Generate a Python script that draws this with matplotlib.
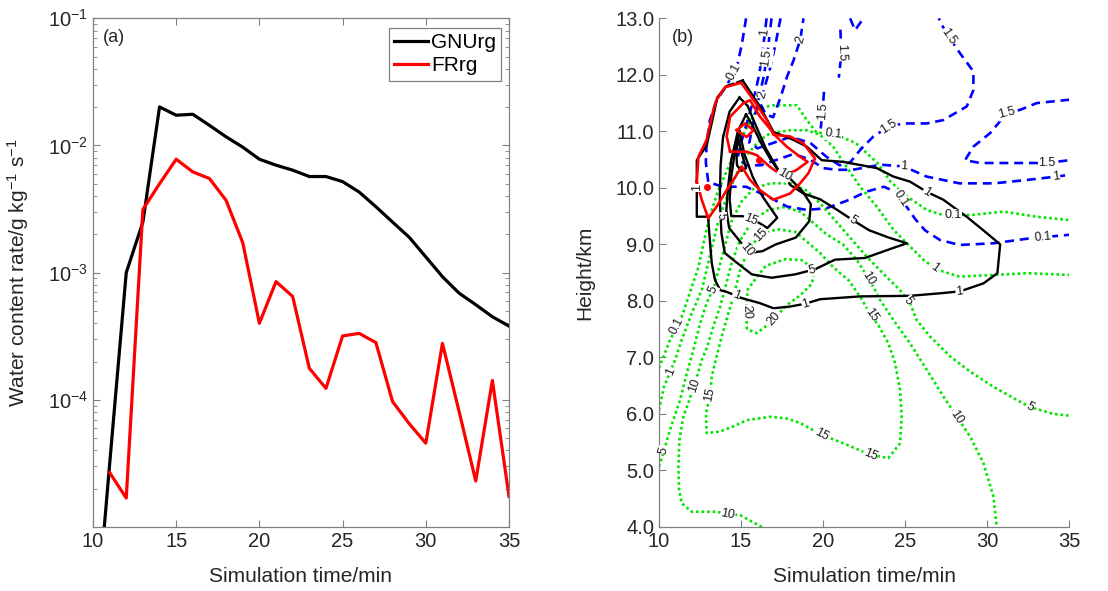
import numpy as np
import matplotlib
matplotlib.use('Agg')
import matplotlib.pyplot as plt
from matplotlib.ticker import FixedLocator, LogLocator, NullFormatter, FormatStrFormatter

plt.rcParams['font.family'] = ['Liberation Sans', 'DejaVu Sans']
plt.rcParams['mathtext.fontset'] = 'custom'
plt.rcParams['mathtext.rm'] = 'Liberation Sans'
plt.rcParams['mathtext.it'] = 'Liberation Sans:italic'
plt.rcParams['mathtext.default'] = 'regular'

# ---- (a) water content rate, one value per model minute
minutes = np.arange(10, 36)
gnurg = [9e-7, 3.1e-5, 1.0e-3, 2.5e-3, 2.01e-2, 1.73e-2, 1.76e-2, 1.44e-2, 1.17e-2,
         9.7e-3, 7.8e-3, 7.0e-3, 6.4e-3, 5.7e-3, 5.7e-3, 5.2e-3, 4.3e-3, 3.3e-3,
         2.5e-3, 1.9e-3, 1.33e-3, 9.3e-4, 6.9e-4, 5.6e-4, 4.5e-4, 3.8e-4]
frrg = [np.nan, 2.68e-5, 1.69e-5, 3.14e-3, 5.0e-3, 7.8e-3, 6.2e-3, 5.5e-3, 3.7e-3,
        1.72e-3, 4.0e-4, 8.5e-4, 6.5e-4, 1.77e-4, 1.23e-4, 3.18e-4, 3.33e-4, 2.82e-4,
        9.7e-5, 6.5e-5, 4.56e-5, 2.78e-4, 8.1e-5, 2.3e-5, 1.42e-4, 1.74e-5]

# ---- (b) contour lines as (time [min], height [km]) vertices
green_01 = [(10.0, 6.81), (10.67, 7.31), (11.38, 7.72), (11.79, 8.07), (12.4, 8.6), (12.8, 9.14),
            (13.1, 9.5), (13.6, 9.95), (14.2, 10.35), (14.8, 10.75), (15.4, 11.1), (16.0, 11.4),
            (16.9, 11.46), (18.4, 11.46), (19.0, 11.2), (19.6, 10.98), (20.8, 10.94), (22.0, 10.79),
            (23.3, 10.44), (24.1, 10.11), (25.1, 9.85), (26.3, 9.61), (27.3, 9.52), (29.0, 9.52),
            (31.0, 9.58), (33.0, 9.49), (35.0, 9.43)]
green_1 = [(10.0, 6.07), (10.3, 6.48), (10.97, 6.95), (11.38, 7.31), (11.99, 7.78), (12.6, 8.19),
           (13.1, 8.8), (13.6, 9.4), (14.2, 9.9), (14.8, 10.3), (15.4, 10.6), (16.15, 10.85),
           (16.8, 10.97), (18.0, 11.02), (19.0, 11.02), (19.8, 10.94), (20.6, 10.73), (21.4, 10.38),
           (22.25, 10.02), (23.26, 9.67), (24.28, 9.26), (25.3, 8.96), (26.1, 8.73), (26.8, 8.58),
           (27.3, 8.52), (28.3, 8.43), (30.4, 8.46), (32.4, 8.49), (35.0, 8.46)]
green_5 = [(10.0, 5.07), (10.26, 5.31), (10.67, 5.72), (11.28, 6.25), (11.69, 6.72), (12.09, 7.13),
           (12.5, 7.6), (12.9, 7.96), (13.35, 8.25), (13.9, 8.85), (14.4, 9.4), (15.0, 9.75),
           (15.8, 10.0), (16.8, 10.08), (18.0, 10.08), (19.0, 9.95), (19.9, 9.7), (20.8, 9.4),
           (21.7, 9.1), (22.6, 8.8), (23.6, 8.5), (24.68, 8.19), (25.29, 7.96), (25.7, 7.66),
           (26.51, 7.37), (27.73, 7.02), (28.95, 6.75), (30.37, 6.48), (31.79, 6.25), (32.6, 6.12),
           (33.21, 6.07), (34.03, 6.0), (35.0, 5.97)]
green_10 = [(16.26, 4.0), (14.94, 4.21), (14.22, 4.23), (13.51, 4.27), (11.99, 4.27), (11.38, 4.42),
            (11.22, 4.66), (11.18, 5.07), (11.24, 5.54), (11.48, 5.95), (11.79, 6.2), (12.2, 6.55),
            (12.6, 6.95), (12.95, 7.2), (13.31, 7.55), (13.72, 7.9), (13.95, 8.14), (14.4, 8.65),
            (14.9, 9.05), (15.7, 9.42), (16.6, 9.6), (17.6, 9.66), (18.6, 9.58), (19.4, 9.38),
            (20.2, 9.18), (21.2, 9.0), (22.04, 8.73), (22.75, 8.4), (23.16, 8.19), (23.46, 8.02),
            (24.28, 7.66), (25.29, 7.25), (26.31, 6.78), (27.32, 6.31), (28.14, 5.95), (28.95, 5.6),
            (29.76, 5.13), (30.37, 4.54), (30.57, 4.0)]
green_15 = [(14.53, 8.08), (14.22, 7.78), (13.82, 7.37), (13.51, 7.02), (13.21, 6.66), (13.11, 6.34),
            (12.86, 6.01), (12.9, 5.66), (13.72, 5.69), (14.53, 5.78), (15.34, 5.89), (16.76, 5.95),
            (17.78, 5.92), (18.59, 5.84), (19.91, 5.63), (21.23, 5.48), (22.86, 5.28), (23.97, 5.22),
            (24.68, 5.48), (24.78, 5.95), (24.68, 6.43), (24.38, 6.9), (23.97, 7.25), (23.4, 7.55),
            (22.8, 7.8), (22.3, 8.05), (21.6, 8.35), (20.6, 8.6), (19.8, 8.85), (19.0, 9.05),
            (18.3, 9.22), (17.2, 9.27), (16.3, 9.18), (15.5, 8.95), (14.95, 8.55), (14.53, 8.08)]
green_20 = [(15.35, 7.5), (15.3, 7.85), (15.4, 8.2), (15.9, 8.4), (16.5, 8.62), (17.7, 8.74),
            (18.7, 8.72), (19.5, 8.55), (19.3, 8.3), (18.6, 8.1), (17.9, 7.95), (17.3, 7.78),
            (16.9, 7.65), (16.5, 7.55), (15.95, 7.43), (15.35, 7.5)]

blue_01 = [(15.3, 13.0), (15.05, 12.55), (14.75, 12.15), (14.1, 11.8), (13.5, 11.55), (13.1, 11.2),
           (12.9, 10.8), (12.85, 10.45), (13.0, 10.1), (13.9, 10.02), (15.3, 10.02), (16.6, 9.85),
           (17.8, 9.67), (19.0, 9.61), (20.2, 9.64), (21.6, 9.79), (22.6, 9.93), (23.7, 10.02),
           (24.5, 9.92), (25.0, 9.7), (25.6, 9.45), (26.2, 9.25), (27.1, 9.08), (28.3, 8.99),
           (30.4, 9.02), (32.4, 9.1), (35.0, 9.17)]
blue_1 = [(16.55, 13.0), (16.35, 12.5), (16.1, 12.0), (15.75, 11.55), (15.35, 11.15), (15.0, 10.8),
          (14.8, 10.55), (15.3, 10.4), (16.2, 10.4), (17.2, 10.5), (18.2, 10.6), (19.2, 10.5),
          (20.0, 10.35), (20.8, 10.32), (21.8, 10.32), (23.5, 10.41), (24.9, 10.38), (26.3, 10.2),
          (28.3, 10.08), (30.4, 10.08), (32.4, 10.14), (34.2, 10.2), (35.0, 10.23)]
blue_15_main = [(16.85, 13.0), (16.65, 12.5), (16.4, 12.0), (16.05, 11.55), (15.7, 11.1), (15.5, 10.8),
                (16.0, 10.7), (17.0, 10.8), (18.0, 10.9), (19.2, 10.8), (20.2, 10.55), (21.0, 10.4),
                (21.64, 10.45), (22.25, 10.67), (23.06, 10.91), (23.97, 11.08), (24.89, 11.14),
                (26.31, 11.14), (27.32, 11.2), (28.74, 11.44), (29.15, 11.73), (29.15, 12.06),
                (28.34, 12.38), (27.63, 12.68), (27.12, 12.94), (27.05, 13.0)]
blue_15_top = [(21.05, 12.8), (21.1, 12.35), (20.95, 11.95)]
blue_15_mid = [(20.05, 11.7), (19.95, 11.35), (19.85, 11.05)]
blue_15_cap = [(21.64, 13.0), (21.94, 12.79), (22.45, 13.0)]
blue_15_right = [(35.0, 11.56), (33.01, 11.5), (31.99, 11.38), (31.18, 11.32), (30.17, 10.97),
                 (29.15, 10.73), (28.64, 10.49), (29.56, 10.44), (32.4, 10.44), (33.62, 10.44),
                 (35.0, 10.49)]
blue_2 = [(17.4, 13.0), (17.1, 12.55), (16.75, 12.1), (16.4, 11.75), (16.15, 11.5), (16.5, 11.3),
          (16.95, 11.25), (17.4, 11.6), (17.8, 11.97), (18.2, 12.26), (18.6, 12.62), (18.8, 13.0)]

black_1 = [(15.1, 11.9), (16.15, 11.44), (16.97, 10.99), (18.18, 10.85), (19.0, 10.73), (19.91, 10.49),
           (21.23, 10.46), (23.26, 10.35), (24.28, 10.2), (25.29, 10.11), (26.31, 9.93), (27.32, 9.79),
           (28.74, 9.49), (29.96, 9.2), (30.78, 9.0), (30.61, 8.49), (29.76, 8.31), (28.34, 8.17),
           (27.32, 8.14), (25.29, 8.09), (22.25, 8.08), (19.81, 8.03), (18.9, 7.95), (17.98, 7.9),
           (16.97, 7.87), (16.15, 7.96), (15.04, 8.05), (14.12, 8.16), (13.72, 8.19), (13.41, 8.37),
           (13.21, 8.67), (13.11, 9.02), (13.0, 9.43), (13.0, 9.49), (12.3, 9.49), (12.3, 10.49),
           (12.9, 10.75), (13.25, 11.2), (13.55, 11.6), (14.1, 11.8), (15.1, 11.9)]
black_5 = [(14.9, 11.6), (15.4, 11.45), (15.9, 11.1), (16.5, 10.7), (17.2, 10.35), (18.0, 10.05),
           (18.8, 9.9), (19.8, 9.8), (20.8, 9.62), (21.8, 9.43), (22.8, 9.25), (24.0, 9.12),
           (25.1, 9.02), (24.2, 8.93), (22.55, 8.76), (20.72, 8.73), (19.5, 8.56), (18.29, 8.47),
           (16.86, 8.41), (15.65, 8.47), (14.63, 8.7), (14.0, 8.85), (13.8, 9.2), (13.7, 9.8),
           (13.75, 10.4), (13.9, 10.9), (14.3, 11.35), (14.9, 11.6)]
black_10 = [(15.3, 11.3), (15.7, 11.1), (16.2, 10.8), (16.8, 10.5), (17.3, 10.29), (17.93, 10.18),
            (18.74, 9.94), (19.25, 9.71), (19.15, 9.41), (18.33, 9.12), (17.11, 9.0), (16.3, 8.88),
            (15.49, 8.85), (15.08, 9.0), (14.27, 9.29), (14.1, 9.6), (14.2, 10.0), (14.4, 10.5),
            (14.8, 11.0), (15.3, 11.3)]
black_15 = [(14.9, 11.0), (15.2, 10.6), (15.7, 10.2), (16.3, 9.85), (17.2, 9.47), (16.6, 9.29),
            (16.1, 9.38), (15.08, 9.5), (14.4, 9.5), (14.3, 9.8), (14.4, 10.2), (14.6, 10.6), (14.9, 11.0)]
black_20 = [(14.85, 10.85), (15.05, 10.6), (15.3, 10.35), (15.0, 10.3), (14.75, 10.4), (14.7, 10.65),
            (14.85, 10.85)]

red_outer = [(12.3, 10.11), (12.4, 10.55), (12.9, 10.85), (13.31, 11.38), (13.51, 11.56), (14.02, 11.78),
             (15.0, 11.86), (15.75, 11.56), (16.56, 11.2), (16.97, 10.94), (17.98, 10.91), (18.79, 10.79),
             (19.5, 10.52), (19.1, 10.26), (18.59, 10.08), (17.98, 9.9), (16.97, 9.79), (16.15, 9.96),
             (15.54, 10.14), (15.04, 10.38), (14.53, 10.14), (14.12, 9.96), (13.51, 9.67), (13.0, 9.46),
             (12.6, 9.79), (12.3, 10.11)]
red_inner = [(14.33, 10.64), (14.12, 10.91), (14.33, 11.26), (15.14, 11.5), (15.55, 11.55), (16.15, 11.26),
             (17.17, 10.9), (17.78, 10.73), (18.59, 10.55), (19.05, 10.46), (18.39, 10.32), (17.58, 10.2),
             (16.76, 10.37), (15.95, 10.58), (15.34, 10.64), (14.33, 10.64)]
red_core = [(14.73, 11.02), (15.24, 11.14), (15.75, 11.02), (15.34, 10.9), (14.73, 11.02)]
red_spots = [(12.93, 10.02), (16.1, 10.5)]

# (level, path, label spots, style) for each contour line
green_style = dict(color='#00e600', lw=1.9, ls=(0, (1, 1.1)), zorder=2)
blue_style = dict(color='#0000ff', lw=1.9, ls=(0, (3.4, 2.2)), zorder=2.5)
black_style = dict(color='black', lw=1.7, ls='-', zorder=3)
red_style = dict(color='#ff0000', lw=1.9, ls='-', zorder=3.5)

contours = [
    (0.1, green_01, [(11.15, 7.55), (20.6, 10.95), (27.9, 9.52)], green_style),
    (1, green_1, [(10.75, 6.75), (26.8, 8.58)], green_style),
    (5, green_5, [(10.3, 5.35), (13.3, 8.2), (25.2, 8.0), (32.6, 6.12)], green_style),
    (10, green_10, [(14.2, 4.23), (12.25, 6.5), (22.75, 8.4), (28.14, 5.95)], green_style),
    (15, green_15, [(13.1, 6.34), (19.9, 5.63), (22.86, 5.28), (22.9, 7.75), (16.1, 9.2)], green_style),
    (20, green_20, [(15.32, 7.8), (17.0, 7.68)], green_style),
    (0.1, blue_01, [(14.55, 12.05), (24.75, 9.82), (33.4, 9.13)], blue_style),
    (1, blue_1, [(16.45, 12.75), (24.9, 10.38), (34.2, 10.2)], blue_style),
    (1.5, blue_15_main, [(16.55, 12.3), (23.97, 11.08), (27.63, 12.68)], blue_style),
    (1.5, blue_15_top, [(21.08, 12.4)], blue_style),
    (1.5, blue_15_mid, [(19.95, 11.35)], blue_style),
    (1.5, blue_15_cap, [], blue_style),
    (1.5, blue_15_right, [(31.18, 11.32), (33.62, 10.44)], blue_style),
    (2, blue_2, [(16.3, 11.64), (18.6, 12.62)], blue_style),
    (1, black_1, [(12.3, 10.0), (26.3, 9.93), (28.3, 8.17), (18.9, 7.97), (14.7, 8.1)], black_style),
    (5, black_5, [(13.75, 9.5), (19.3, 8.55), (21.8, 9.43)], black_style),
    (10, black_10, [(17.6, 10.22), (15.3, 8.9)], black_style),
    (15, black_15, [(15.6, 9.45)], black_style),
    (20, black_20, [], black_style),
    (2, red_outer, [], red_style),
    (5, red_inner, [], red_style),
    (10, red_core, [], red_style),
]


def label_on(ax, path, spot, text):
    # put an inline label on the path segment nearest to spot, aligned with it
    pts = ax.transData.transform(np.asarray(path, dtype=float))
    p = ax.transData.transform(spot)
    best = None
    for a, b in zip(pts[:-1], pts[1:]):
        ab = b - a
        l2 = ab @ ab
        if l2 == 0:
            continue
        u = np.clip((p - a) @ ab / l2, 0, 1)
        q = a + u * ab
        d = np.hypot(*(p - q))
        if best is None or d < best[0]:
            best = (d, q, ab)
    _, q, ab = best
    ang = np.degrees(np.arctan2(ab[1], ab[0]))
    if ang > 90:
        ang -= 180
    elif ang < -90:
        ang += 180
    t, z = ax.transData.inverted().transform(q)
    ax.text(t, z, text, rotation=ang, rotation_mode='anchor', ha='center', va='center',
            fontsize=9, color='#1a1a1a', zorder=6,
            bbox=dict(fc='white', ec='none', pad=0.4))


fig = plt.figure(figsize=(11.08, 5.91), dpi=100)
grey = '#808080'

# ---------------- panel (a)
ax1 = fig.add_axes([0.0839, 0.1083, 0.3755, 0.8607])
ax1.plot(minutes, gnurg, color='black', lw=2.3, label='GNUrg')
ax1.plot(minutes, frrg, color='#ff0000', lw=2.3, label='FRrg')
ax1.set_yscale('log')
ax1.set_xlim(10, 35)
ax1.set_ylim(1e-5, 1e-1)
ax1.set_xticks(range(10, 36, 5))
ax1.yaxis.set_major_locator(FixedLocator([1e-4, 1e-3, 1e-2, 1e-1]))
ax1.yaxis.set_minor_locator(LogLocator(base=10, subs=np.arange(2, 10), numticks=20))
ax1.yaxis.set_minor_formatter(NullFormatter())
ax1.tick_params(which='both', direction='in', top=True, right=True, color=grey,
                labelcolor='#262626', labelsize=14.5)
ax1.tick_params(which='major', length=5)
ax1.tick_params(which='minor', length=3)
for s in ax1.spines.values():
    s.set_color(grey)
    s.set_linewidth(0.9)
ax1.set_xlabel('Simulation time/min', fontsize=15, color='#262626')
ax1.set_ylabel('Water content rate/g kg$^{-1}$ s$^{-1}$', fontsize=15, color='#262626')
ax1.xaxis.set_label_coords(0.5, -0.078)
ax1.yaxis.set_label_coords(-0.15, 0.5)
ax1.text(0.024, 0.962, '(a)', transform=ax1.transAxes, fontsize=13, va='center', color='#262626')
leg = ax1.legend(loc='upper right', bbox_to_anchor=(0.981, 0.981), borderaxespad=0,
                 fontsize=15, fancybox=False, edgecolor=grey, framealpha=1,
                 handlelength=1.6, handletextpad=0.15, borderpad=0.25, labelspacing=0.2)
leg.get_frame().set_linewidth(0.9)

# ---------------- panel (b)
ax2 = fig.add_axes([0.5948, 0.1083, 0.3704, 0.8607])
ax2.set_xlim(10, 35)
ax2.set_ylim(4, 13)
ax2.set_xticks(range(10, 36, 5))
ax2.set_yticks(np.arange(4, 13.5, 1.0))
ax2.yaxis.set_major_formatter(FormatStrFormatter('%.1f'))
ax2.spines['top'].set_visible(False)
ax2.spines['right'].set_visible(False)
for s in ('left', 'bottom'):
    ax2.spines[s].set_color(grey)
    ax2.spines[s].set_linewidth(0.9)
ax2.tick_params(direction='in', length=5, color=grey, labelcolor='#262626', labelsize=14.5)
ax2.set_xlabel('Simulation time/min', fontsize=15, color='#262626')
ax2.set_ylabel('Height/km', fontsize=15, color='#262626')
ax2.xaxis.set_label_coords(0.5, -0.078)
ax2.yaxis.set_label_coords(-0.157, 0.5)
ax2.text(0.032, 0.962, '(b)', transform=ax2.transAxes, fontsize=13, va='center', color='#262626')

for level, path, spots, style in contours:
    arr = np.asarray(path)
    ax2.plot(arr[:, 0], arr[:, 1], **style)
    for spot in spots:
        label_on(ax2, path, spot, f'{level:g}')

spots = np.asarray(red_spots)
ax2.plot(spots[:, 0], spots[:, 1], 'o', color='#ff0000', ms=4, zorder=4)

fig.savefig('out.png', dpi=100)
